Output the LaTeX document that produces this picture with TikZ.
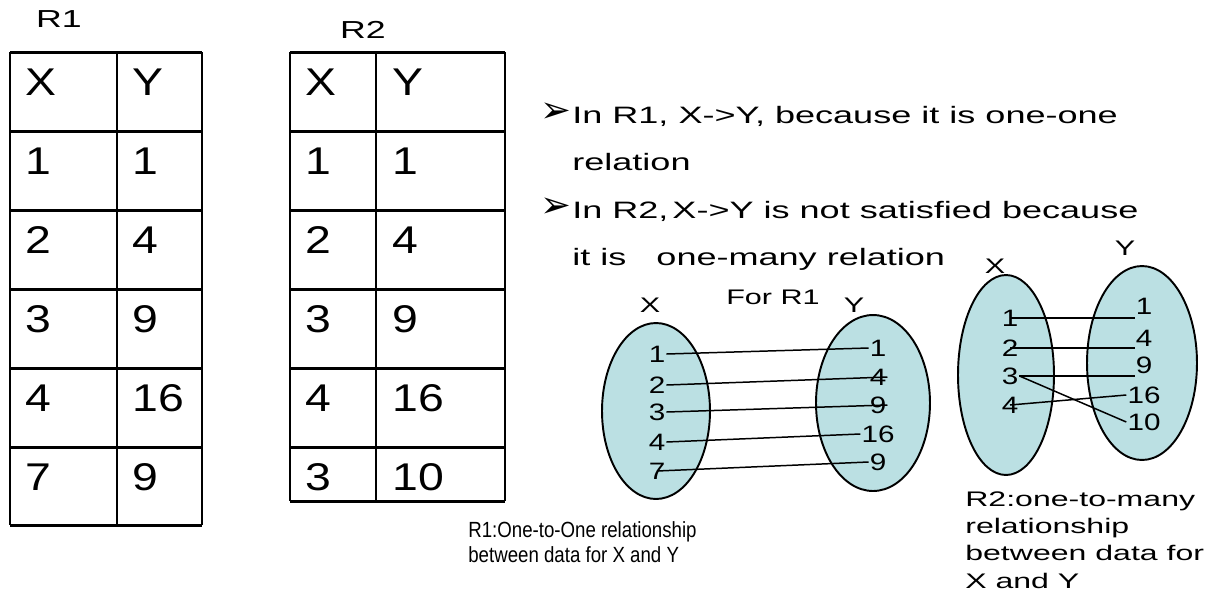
\documentclass[tikz,border=0pt]{standalone}
\usepackage{fontspec}
\setmainfont{Liberation Sans}
\newfontfamily\tblfont[FakeStretch=1.2]{Liberation Sans}
\newfontfamily\widefont[FakeStretch=1.45]{Liberation Sans}
\newfontfamily\remfont[FakeStretch=1.52]{Liberation Sans}
\newfontfamily\numfont[FakeStretch=1.25]{Liberation Sans}
\newfontfamily\capfont[FakeStretch=0.85]{Liberation Sans}
\newfontfamily\dingfont{DejaVu Sans}
\usetikzlibrary{positioning}
\definecolor{setfill}{HTML}{BBE0E3}
\tikzset{
  tbl/.style={line width=1.7pt},
  cell/.style={anchor=base west, inner sep=0pt, font=\tblfont\fontsize{22}{26}\selectfont},
  tname/.style={inner sep=0pt, font=\widefont\fontsize{14}{16}\selectfont},
  blt/.style={inner sep=0pt, font=\dingfont\fontsize{21}{22}\selectfont},
  btxt/.style={anchor=base west, inner sep=0pt, align=left, font=\remfont\fontsize{13.5}{26.7}\selectfont},
  setR/.style={fill=setfill, draw, line width=1.1pt},
  num/.style={inner sep=0.5pt, font=\numfont\fontsize{13.5}{16}\selectfont},
  lnk/.style={line width=0.85pt},
  vlab/.style={inner sep=0pt, font=\widefont\fontsize{12}{14}\selectfont},
  capA/.style={anchor=base west, inner sep=0pt, align=left, font=\capfont\fontsize{12.5}{14.2}\selectfont},
  capB/.style={anchor=base west, inner sep=0pt, align=left, font=\remfont\fontsize{12}{15.4}\selectfont},
}

\begin{document}
\begin{tikzpicture}[x=0.02cm,y=-0.02cm]
\useasboundingbox (0,0) rectangle (1215,593);

% ============ table R1 ============
\node[tname] (r1name) at (59,19) {R1};
\foreach \y in {52,131,210,289,368,447,525}
  \draw[tbl] (10,\y) -- (202,\y);
\foreach \x in {10,117,202}
  \draw[tbl] (\x,52) -- (\x,525);
\foreach \a/\b [count=\i] in {X/Y,1/1,2/4,3/9,4/16,7/9} {
  \node[cell] (r1a\i) at (25,16+79*\i) {\a};
  \node[cell] (r1b\i) at (132,16+79*\i) {\b};
}

% ============ table R2 ============
\node[tname] (r2name) at (363,30) {R2};
\foreach \y in {52,131,210,289,368,447,501}
  \draw[tbl] (290,\y) -- (505,\y);
\foreach \x in {290,376,505}
  \draw[tbl] (\x,52) -- (\x,501);
\foreach \a/\b [count=\i] in {X/Y,1/1,2/4,3/9,4/16,3/10} {
  \node[cell] (r2a\i) at (305,16+79*\i) {\a};
  \node[cell] (r2b\i) at (392,16+79*\i) {\b};
}

% ============ remarks (base = last line) ============
\node[blt] (pt1) at (556,113) {➢};
\node[btxt] (txt1) at (572,170) {In R1,\ X->Y, because it is one-one\\relation};
\node[blt] (pt2) at (556,208) {➢};
\node[btxt] (txt2) at (572,265) {In R2,\,X->Y is not satisfied because\\it is\ \ \ one-many relation};

% ============ mapping for R1 ============
\filldraw[setR] (656,411) ellipse [x radius=1.08cm, y radius=1.76cm];
\filldraw[setR] (873,403) ellipse [x radius=1.14cm, y radius=1.76cm];
\node[vlab] (r1X) at (650,305) {X};
\node[vlab] (r1for) at (773,297) {For R1};
\node[vlab] (r1Y) at (854,305) {Y};
\foreach \v/\y [count=\i] in {1/354,2/385,3/412,4/442,7/471}
  \node[num] (r1x\i) at (657,\y) {\v};
\foreach \v/\y [count=\i] in {1/348,4/377,9/405,16/434,9/462}
  \node[num] (r1y\i) at (878,\y) {\v};
\draw[lnk] (r1x1.east) -- (r1y1.west);
\draw[lnk] (r1x2.east) -- (r1y2.east);
\draw[lnk] (r1x3.east) -- (r1y3.east);
\draw[lnk] (r1x4.east) -- (r1y4.west);
\draw[lnk] (r1x5.center) -- (r1y5.west);
\node[capA] (cap1) at (468,562) {R1:One-to-One relationship\\between data for X and Y};

% ============ mapping for R2 ============
\filldraw[setR] (1006,375) ellipse [x radius=0.96cm, y radius=2.0cm];
\filldraw[setR] (1142,363) ellipse [x radius=1.10cm, y radius=1.94cm];
\node[vlab] (r2X) at (995,266) {X};
\node[vlab] (r2Y) at (1125,248) {Y};
\foreach \v/\y [count=\i] in {1/318,2/348,3/376,4/405}
  \node[num] (r2x\i) at (1010,\y) {\v};
\foreach \v/\y [count=\i] in {1/306,4/338,9/365,16/395,10/422}
  \node[num] (r2y\i) at (1144,\y) {\v};
\draw[lnk] (r2x1.center) -- (r2x1.center -| r2y1.west);
\draw[lnk] (r2x2.center) -- (r2x2.center -| r2y2.west);
\draw[lnk] (r2x3.east) -- (r2x3.east -| r2y3.west);
\draw[lnk] (r2x3.east) -- (r2y5.west);
\draw[lnk] (r2x4.center) -- (r2y4.west);
\node[capB] (cap2) at (965,588) {R2:one-to-many\\relationship\\between data for\\X and Y};

\end{tikzpicture}
\end{document}
